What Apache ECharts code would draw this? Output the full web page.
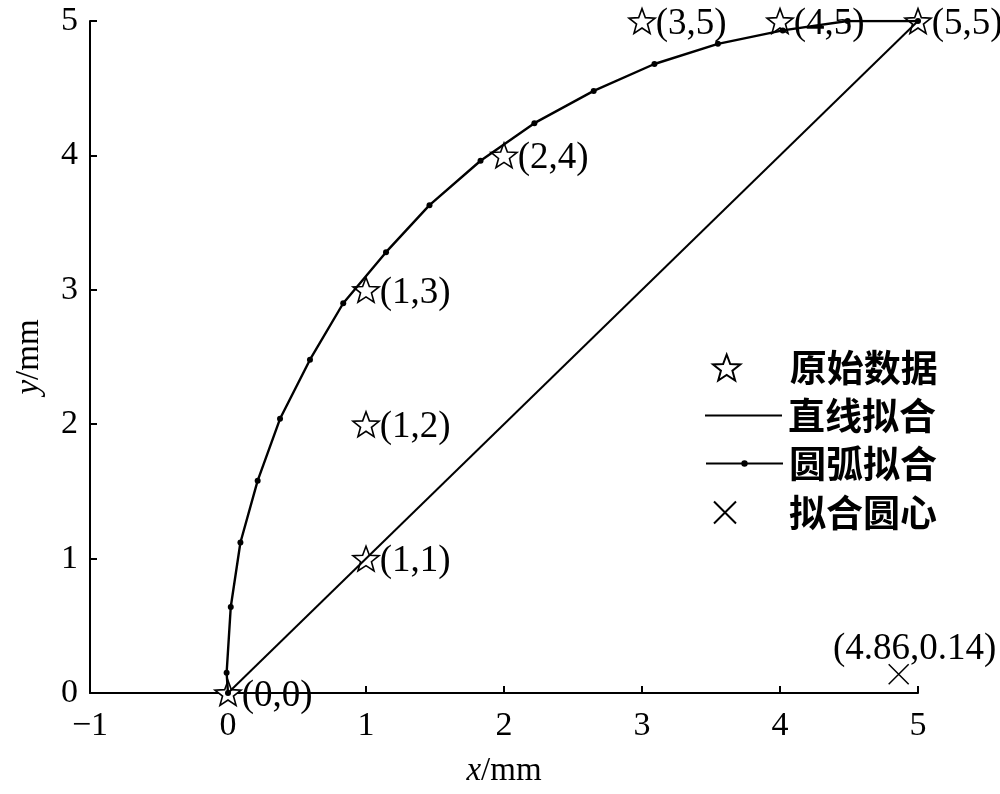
<!DOCTYPE html>
<html><head><meta charset="utf-8">
<script src="https://cdn.jsdelivr.net/npm/echarts@6/dist/echarts.min.js"></script>
<style>html,body{margin:0;padding:0;background:#fff}#c{width:1000px;height:794px}</style>
</head><body><div id="c"></div>
<script>
// Original data points
const origX = [0, 1, 1, 1, 2, 3, 4, 5];
const origY = [0, 1, 2, 3, 4, 5, 5, 5];
// Straight-line fit
const lineX = [0, 5];
const lineY = [0, 5];
// Arc fit
const arcX = [0, -0.01, 0.02, 0.09, 0.215, 0.377, 0.594, 0.835, 1.145, 1.46, 1.83, 2.22, 2.65, 3.09, 3.55, 4.02, 4.49, 5.0];
const arcY = [0, 0.15, 0.64, 1.12, 1.58, 2.04, 2.48, 2.90, 3.28, 3.63, 3.96, 4.24, 4.48, 4.68, 4.83, 4.93, 5.0, 5.0];
// Fitted circle centre
const centerX = [4.86];
const centerY = [0.14];
// Axis ticks
const xMin = -1, xMax = 5, yMin = 0, yMax = 5, tickStep = 1;
const names = ['原始数据', '直线拟合', '圆弧拟合', '拟合圆心'];

const serif = '"Liberation Serif", "Times New Roman", serif';
const cjk = '"Noto Sans CJK SC", sans-serif';
const STAR = 'path://M50,0 L62.34,33.01 L97.55,34.55 L69.97,56.49 L79.39,90.45 L50,71 L20.61,90.45 L30.03,56.49 L2.45,34.55 L37.66,33.01 Z';
const CROSS = 'path://M0,0 L10,10 M10,0 L0,10';

const zip = (xs, ys) => xs.map((x, i) => [x, ys[i]]);
const fmtNum = v => (v < 0 ? '\u2212' + Math.abs(v) : String(v));

const chart = echarts.init(document.getElementById('c'), null, {renderer: 'canvas'});
const legendText = {fontFamily: cjk, fontSize: 37, fontWeight: 'bold', color: '#000'};
chart.setOption({
  animation: false,
  backgroundColor: '#fff',
  grid: {left: 90, right: 82, top: 21, bottom: 101, containLabel: false},
  xAxis: {
    type: 'value', min: xMin, max: xMax, interval: tickStep,
    name: '{it|x}/mm', nameLocation: 'middle', nameGap: 62,
    nameTextStyle: {fontFamily: serif, fontSize: 33, color: '#000',
      rich: {it: {fontFamily: serif, fontSize: 33, fontStyle: 'italic', color: '#000'}}},
    axisLine: {onZero: false, lineStyle: {color: '#000', width: 2}},
    axisTick: {inside: true, length: 7, lineStyle: {color: '#000', width: 2}},
    axisLabel: {fontFamily: serif, fontSize: 34, color: '#000', margin: 16, formatter: fmtNum},
    splitLine: {show: false}
  },
  yAxis: {
    type: 'value', min: yMin, max: yMax, interval: tickStep,
    name: '{it|y}/mm', nameLocation: 'middle', nameGap: 44, nameRotate: 90,
    nameTextStyle: {fontFamily: serif, fontSize: 33, color: '#000',
      rich: {it: {fontFamily: serif, fontSize: 33, fontStyle: 'italic', color: '#000'}}},
    axisLine: {onZero: false, lineStyle: {color: '#000', width: 2}},
    axisTick: {inside: true, length: 7, lineStyle: {color: '#000', width: 2}},
    axisLabel: {fontFamily: serif, fontSize: 34, color: '#000', margin: 12, formatter: fmtNum},
    splitLine: {show: false}
  },
  legend: [
    {data: [names[0]], left: 707, top: 344, itemWidth: 50, itemHeight: 26, itemGap: 0,
      textStyle: Object.assign({padding: [0, 0, 0, 33]}, legendText)},
    {data: [{name: names[1], icon: 'rect'}], left: 700, top: 392, itemWidth: 77, itemHeight: 2,
      itemStyle: {color: '#000'},
      textStyle: Object.assign({padding: [0, 0, 0, 1]}, legendText)},
    {data: [names[2]], left: 700, top: 440, itemWidth: 77, itemHeight: 8,
      textStyle: Object.assign({padding: [0, 0, 0, 1]}, legendText)},
    {data: [names[3]], left: 708, top: 489, itemWidth: 50, itemHeight: 22,
      textStyle: Object.assign({padding: [0, 0, 0, 34]}, legendText)}
  ],
  series: [
    {
      name: names[0], type: 'scatter', z: 1, symbol: STAR, symbolSize: 26, symbolKeepAspect: true,
      itemStyle: {color: '#fff', borderColor: '#000', borderWidth: 1.6, opacity: 1},
      label: {show: true, position: 'right', distance: 0, offset: [0, 3], fontFamily: serif, fontSize: 37, color: '#000',
        formatter: p => '(' + p.value[0] + ',' + p.value[1] + ')'},
      data: zip(origX, origY)
    },
    {
      name: names[1], type: 'line', z: 3, symbol: 'none', showSymbol: false,
      lineStyle: {color: '#000', width: 2},
      itemStyle: {color: '#000'},
      data: zip(lineX, lineY)
    },
    {
      name: names[2], type: 'line', z: 3, symbol: 'circle', symbolSize: 6, showSymbol: true,
      lineStyle: {color: '#000', width: 2.4},
      itemStyle: {color: '#000'},
      data: zip(arcX, arcY)
    },
    {
      name: names[3], type: 'scatter', z: 2, symbol: CROSS, symbolSize: 20,
      itemStyle: {color: 'transparent', borderColor: '#000', borderWidth: 1.5, opacity: 1},
      label: {show: true, position: 'top', distance: 0, offset: [16, 4], fontFamily: serif, fontSize: 37, color: '#000',
        formatter: p => '(' + p.value[0] + ',' + p.value[1] + ')'},
      data: zip(centerX, centerY)
    }
  ]
});
</script>
</body></html>
